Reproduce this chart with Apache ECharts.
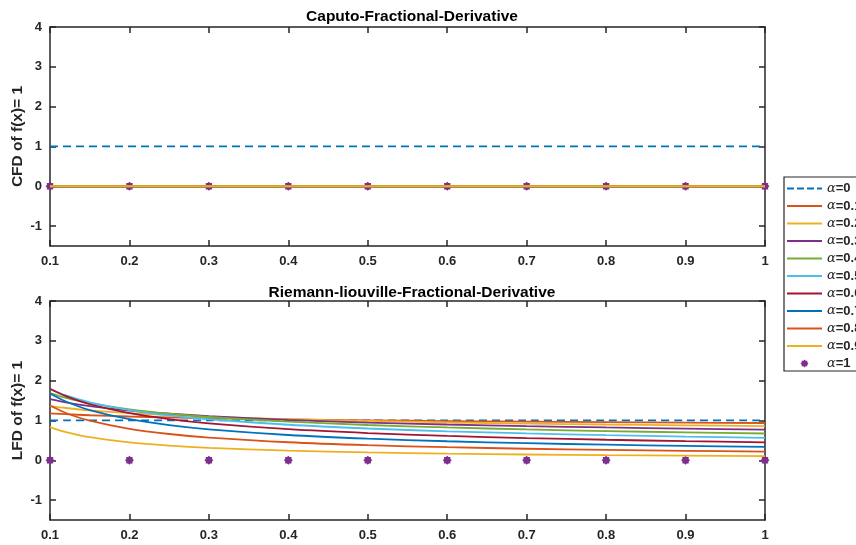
<!DOCTYPE html>
<html>
<head>
<meta charset="utf-8">
<script src="https://cdn.jsdelivr.net/npm/echarts@6/dist/echarts.min.js"></script>
<style>
  html, body { margin: 0; padding: 0; background: #fff; }
  #chart { width: 856px; height: 545px; }
</style>
</head>
<body>
<div id="chart"></div>
<script>
// x positions
const xFine = [0.1, 0.12, 0.15, 0.2, 0.25, 0.3, 0.4, 0.5, 0.6, 0.7, 0.8, 0.9, 1.0];
const xMarks = [0.1, 0.2, 0.3, 0.4, 0.5, 0.6, 0.7, 0.8, 0.9, 1.0];
const xTicks = [0.1, 0.2, 0.3, 0.4, 0.5, 0.6, 0.7, 0.8, 0.9, 1];
const yTicks = [-1, 0, 1, 2, 3, 4];

const alphaLabels = ['0', '0.1', '0.2', '0.3', '0.4', '0.5', '0.6', '0.7', '0.8', '0.9', '1'];
const colors = ['#0072BD', '#D95319', '#EDB120', '#7E2F8E', '#77AC30', '#4DBEEE',
                '#A2142F', '#0072BD', '#D95319', '#EDB120', '#7E2F8E'];

// Caputo: constant level of each alpha curve
const caputoLevel = [1, 0, 0, 0, 0, 0, 0, 0, 0, 0, 0];

// Riemann-Liouville curves
const rlAlpha0 = [1, 1, 1, 1, 1, 1, 1, 1, 1, 1, 1, 1, 1];
const rl01 = [1.178, 1.157, 1.131, 1.099, 1.075, 1.056, 1.026, 1.003, 0.985, 0.970, 0.957, 0.946, 0.936];
const rl02 = [1.361, 1.313, 1.255, 1.185, 1.133, 1.093, 1.032, 0.987, 0.951, 0.922, 0.898, 0.877, 0.859];
const rl03 = [1.537, 1.455, 1.361, 1.249, 1.168, 1.106, 1.014, 0.948, 0.898, 0.857, 0.824, 0.795, 0.770];
const rl04 = [1.687, 1.568, 1.434, 1.278, 1.169, 1.087, 0.969, 0.886, 0.824, 0.774, 0.734, 0.700, 0.672];
const rl05 = [1.784, 1.629, 1.457, 1.262, 1.128, 1.030, 0.892, 0.798, 0.728, 0.674, 0.631, 0.595, 0.564];
const rl06 = [1.795, 1.609, 1.407, 1.184, 1.036, 0.928, 0.781, 0.683, 0.612, 0.558, 0.515, 0.480, 0.451];
const rl07 = [1.675, 1.475, 1.261, 1.031, 0.882, 0.776, 0.635, 0.543, 0.478, 0.429, 0.391, 0.360, 0.334];
const rl08 = [1.374, 1.188, 0.994, 0.789, 0.660, 0.571, 0.453, 0.379, 0.328, 0.290, 0.260, 0.237, 0.218];
const rl09 = [0.835, 0.709, 0.580, 0.447, 0.366, 0.311, 0.240, 0.196, 0.166, 0.145, 0.128, 0.116, 0.105];
const rlAlpha1 = [0, 0, 0, 0, 0, 0, 0, 0, 0, 0];
const rlCurves = [rlAlpha0, rl01, rl02, rl03, rl04, rl05, rl06, rl07, rl08, rl09];

const txt = '#262626';
const font = 'Liberation Sans, Arial, Helvetica, sans-serif';
// matlab '*' marker, drawn thick
const star = 'path://M10,0 L12.9,3 L17.07,2.93 L17,7.1 L20,10 L17,12.9 L17.07,17.07 L12.9,17 L10,20 L7.1,17 L2.93,17.07 L3,12.9 L0,10 L3,7.1 L2.93,2.93 L7.1,3 Z';
const lineIcon = 'path://M0,0 H35 V2 H0 Z';
const dashIcon = 'path://M0,0 H7 V2 H0 Z M10,0 H17 V2 H10 Z M20,0 H27 V2 H20 Z M30,0 H35 V2 H30 Z';

const names = alphaLabels.map(a => 'α=' + a);

function xAxisPair(grid) {
  const base = {
    type: 'value', gridIndex: grid, min: 0.1, max: 1, interval: 0.1,
    axisLine: { show: true, onZero: false, lineStyle: { color: txt, width: 1.5 } },
    axisTick: { show: true, inside: true, length: 6, lineStyle: { color: txt, width: 1.5 } },
    splitLine: { show: false }
  };
  return [
    Object.assign({}, base, {
      position: 'bottom',
      axisLabel: { color: txt, fontFamily: font, fontWeight: 'bold', fontSize: 13, margin: 9,
        formatter: v => xTicks.some(t => Math.abs(t - v) < 1e-6) ? String(+v.toFixed(1)) : '' }
    }),
    Object.assign({}, base, { position: 'top', axisLabel: { show: false } })
  ];
}

function yAxisPair(grid, name) {
  const base = {
    type: 'value', gridIndex: grid, min: -1.5, max: 4,
    axisLine: { show: true, onZero: false, lineStyle: { color: txt, width: 1.5 } },
    axisTick: { show: true, inside: true, length: 6, customValues: yTicks, lineStyle: { color: txt, width: 1.5 } },
    splitLine: { show: false }
  };
  return [
    Object.assign({}, base, {
      position: 'left', name: name, nameLocation: 'middle', nameGap: 24, nameMoveOverlap: false,
      nameTextStyle: { color: txt, fontFamily: font, fontWeight: 'bold', fontSize: 15.5 },
      axisLabel: { color: txt, fontFamily: font, fontWeight: 'bold', fontSize: 13, margin: 8, customValues: yTicks }
    }),
    Object.assign({}, base, { position: 'right', axisLabel: { show: false } })
  ];
}

const series = [];
// top plot: Caputo
names.forEach((n, i) => {
  if (i < 10) {
    series.push({
      name: n, type: 'line', xAxisIndex: 0, yAxisIndex: 0,
      data: [[0.1, caputoLevel[i]], [1, caputoLevel[i]]],
      showSymbol: false, symbol: 'none',
      lineStyle: { color: colors[i], width: 1.8, type: i === 0 ? [8, 5] : 'solid' },
      itemStyle: { color: colors[i] }
    });
  } else {
    series.push({
      name: n, type: 'scatter', xAxisIndex: 0, yAxisIndex: 0,
      data: xMarks.map(x => [x, caputoLevel[i]]),
      symbol: star, symbolSize: 9,
      itemStyle: { color: colors[i], opacity: 1 }
    });
  }
});
// bottom plot: Riemann-Liouville
names.forEach((n, i) => {
  if (i < 10) {
    series.push({
      name: n, type: 'line', xAxisIndex: 2, yAxisIndex: 2,
      data: xFine.map((x, k) => [x, rlCurves[i][k]]),
      showSymbol: false, symbol: 'none',
      smooth: 0.3,
      lineStyle: { color: colors[i], width: 1.8, type: i === 0 ? [8, 5] : 'solid' },
      itemStyle: { color: colors[i] }
    });
  } else {
    series.push({
      name: n, type: 'scatter', xAxisIndex: 2, yAxisIndex: 2,
      data: xMarks.map((x, k) => [x, rlAlpha1[k]]),
      symbol: star, symbolSize: 9,
      itemStyle: { color: colors[i], opacity: 1 }
    });
  }
});

const chart = echarts.init(document.getElementById('chart'));
chart.setOption({
  backgroundColor: '#fff',
  animation: false,
  title: [
    { text: 'Caputo-Fractional-Derivative', left: 407, top: 4, textAlign: 'center',
      textStyle: { color: '#000', fontFamily: font, fontWeight: 'bold', fontSize: 15.5 } },
    { text: 'Riemann-liouville-Fractional-Derivative', left: 407, top: 280, textAlign: 'center',
      textStyle: { color: '#000', fontFamily: font, fontWeight: 'bold', fontSize: 15.5 } }
  ],
  grid: [
    { left: 50, top: 27, width: 715, height: 219, outerBoundsMode: 'none' },
    { left: 50, top: 301, width: 715, height: 219, outerBoundsMode: 'none' }
  ],
  xAxis: xAxisPair(0).concat(xAxisPair(1)),
  yAxis: yAxisPair(0, 'CFD of f(x)= 1').concat(yAxisPair(1, 'LFD of f(x)= 1')),
  legend: {
    orient: 'vertical', left: 784, top: 177,
    data: names.map((n, i) => ({
      name: n,
      icon: i === 0 ? dashIcon : (i === 10 ? star : lineIcon)
    })),
    itemWidth: 35, itemHeight: 8, itemGap: 4.5,
    padding: [5, 40, 1, 3],
    backgroundColor: '#fff', borderColor: txt, borderWidth: 1.2,
    selectedMode: false,
    formatter: n => '{a|α}{b|' + n.slice(1) + '}',
    textStyle: {
      color: txt,
      rich: {
        a: { fontFamily: 'DejaVu Serif, serif', fontStyle: 'italic', fontSize: 13, color: txt },
        b: { fontFamily: font, fontWeight: 'bold', fontSize: 13, color: txt }
      }
    }
  },
  series: series
});
</script>
</body>
</html>
